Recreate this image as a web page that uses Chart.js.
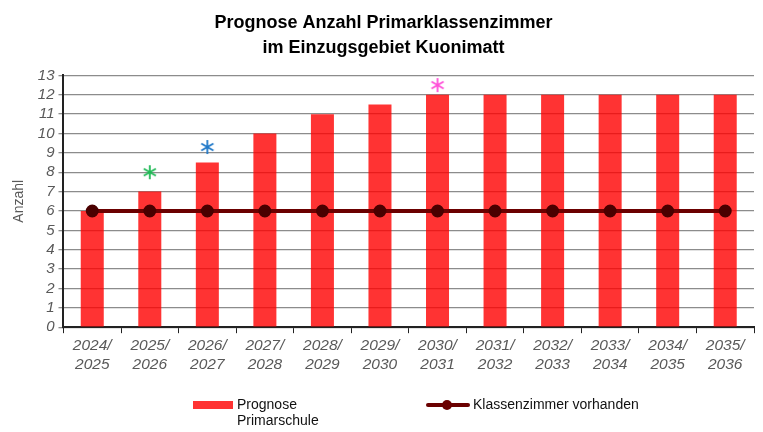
<!DOCTYPE html>
<html>
<head>
<meta charset="utf-8">
<script src="https://cdn.jsdelivr.net/npm/chart.js@4"></script>
<style>
  html, body { margin: 0; padding: 0; background: #fff; }
  #wrap { position: relative; width: 763px; height: 432px; }
  #legend { position: absolute; left: 0; top: 396px; width: 763px; font-family: "Liberation Sans", Arial, sans-serif; font-size: 14px; color: #111; }
  .item { position: absolute; display: flex; align-items: flex-start; }
  .box { width: 40px; height: 8px; background: #ff3333; margin-top: 5px; margin-right: 4px; }
  .ln { position: relative; width: 44px; height: 4px; background: #6b0000; margin-top: 7px; margin-right: 3px; border-radius: 2px; }
  .ln::after { content: ""; position: absolute; left: 16px; top: -3px; width: 10px; height: 10px; border-radius: 50%; background: #6b0000; }
</style>
</head>
<body>
<div id="wrap">
  <canvas id="c" width="763" height="432"></canvas>
  <div id="legend">
    <div class="item" style="left:193px"><span class="box"></span><span>Prognose<br>Primarschule</span></div>
    <div class="item" style="left:426px"><span class="ln"></span><span>Klassenzimmer vorhanden</span></div>
  </div>
</div>
<script>
  // chart data
  const years = [['2024/','2025'],['2025/','2026'],['2026/','2027'],['2027/','2028'],['2028/','2029'],['2029/','2030'],
                 ['2030/','2031'],['2031/','2032'],['2032/','2033'],['2033/','2034'],['2034/','2035'],['2035/','2036']];
  const prognose = [6, 7, 8.5, 10, 11, 11.5, 12, 12, 12, 12, 12, 12];
  const vorhanden = [6, 6, 6, 6, 6, 6, 6, 6, 6, 6, 6, 6];
  const starMarks = [null, 8, 9.3, null, null, null, 12.5, null, null, null, null, null];
  const starColors = ['#000', '#1db954', '#1f78c8', '#000', '#000', '#000', '#ff4fd8', '#000', '#000', '#000', '#000', '#000'];

  const font = "'Liberation Sans', Arial, sans-serif";

  // six-armed asterisk like the '*' marks in the original
  function asterisk(color) {
    const cv = document.createElement('canvas');
    cv.width = 16; cv.height = 16;
    const g = cv.getContext('2d');
    g.strokeStyle = color; g.lineWidth = 1.8; g.lineCap = 'butt';
    for (let a = 0; a < 3; a++) {
      const ang = Math.PI / 2 + a * Math.PI / 3;
      g.beginPath();
      g.moveTo(8 - Math.cos(ang) * 7, 8 - Math.sin(ang) * 7);
      g.lineTo(8 + Math.cos(ang) * 7, 8 + Math.sin(ang) * 7);
      g.stroke();
    }
    return cv;
  }
  const starStyles = starColors.map(asterisk);

  new Chart(document.getElementById('c').getContext('2d'), {
    type: 'bar',
    data: {
      labels: years,
      datasets: [
        { type: 'line', label: 'Marker', data: starMarks, showLine: false, pointStyle: starStyles,
          pointRadius: 8, order: 0 },
        { type: 'line', label: 'Klassenzimmer vorhanden', data: vorhanden, borderColor: '#6b0000', borderWidth: 4,
          pointRadius: 4.5, pointBackgroundColor: '#4a0000', pointBorderColor: '#4a0000', order: 1 },
        { label: 'Prognose Primarschule', data: prognose, backgroundColor: 'rgba(255,0,0,0.8)',
          barPercentage: 0.4, categoryPercentage: 1, order: 2 }
      ]
    },
    options: {
      responsive: false,
      animation: false,
      layout: { padding: { left: 5, right: 1, top: 4, bottom: 55 } },
      plugins: {
        legend: { display: false },
        tooltip: { enabled: false },
        title: {
          display: true,
          text: ['Prognose Anzahl Primarklassenzimmer', 'im Einzugsgebiet Kuonimatt'],
          color: '#000',
          font: { family: font, size: 18, weight: 'bold', lineHeight: 1.4 },
          padding: { top: 6, bottom: 15 }
        }
      },
      scales: {
        x: {
          offset: true,
          grid: { display: true, drawOnChartArea: false, color: '#222', tickLength: 6, offset: true },
          border: { color: '#222', width: 2 },
          ticks: { color: '#595959', font: { family: font, size: 15.5, style: 'italic', lineHeight: 1.22 }, maxRotation: 0, padding: 3 }
        },
        y: {
          min: 0, max: 13,
          ticks: { stepSize: 1, autoSkip: false, color: '#595959', font: { family: font, size: 15, style: 'italic' }, padding: 4 },
          grid: { color: '#8c8c8c', lineWidth: 1.3, tickLength: 5 },
          border: { color: '#222', width: 2 },
          title: { display: true, text: 'Anzahl', color: '#595959', font: { family: font, size: 14 }, padding: 6 }
        }
      }
    }
  });
</script>
</body>
</html>
